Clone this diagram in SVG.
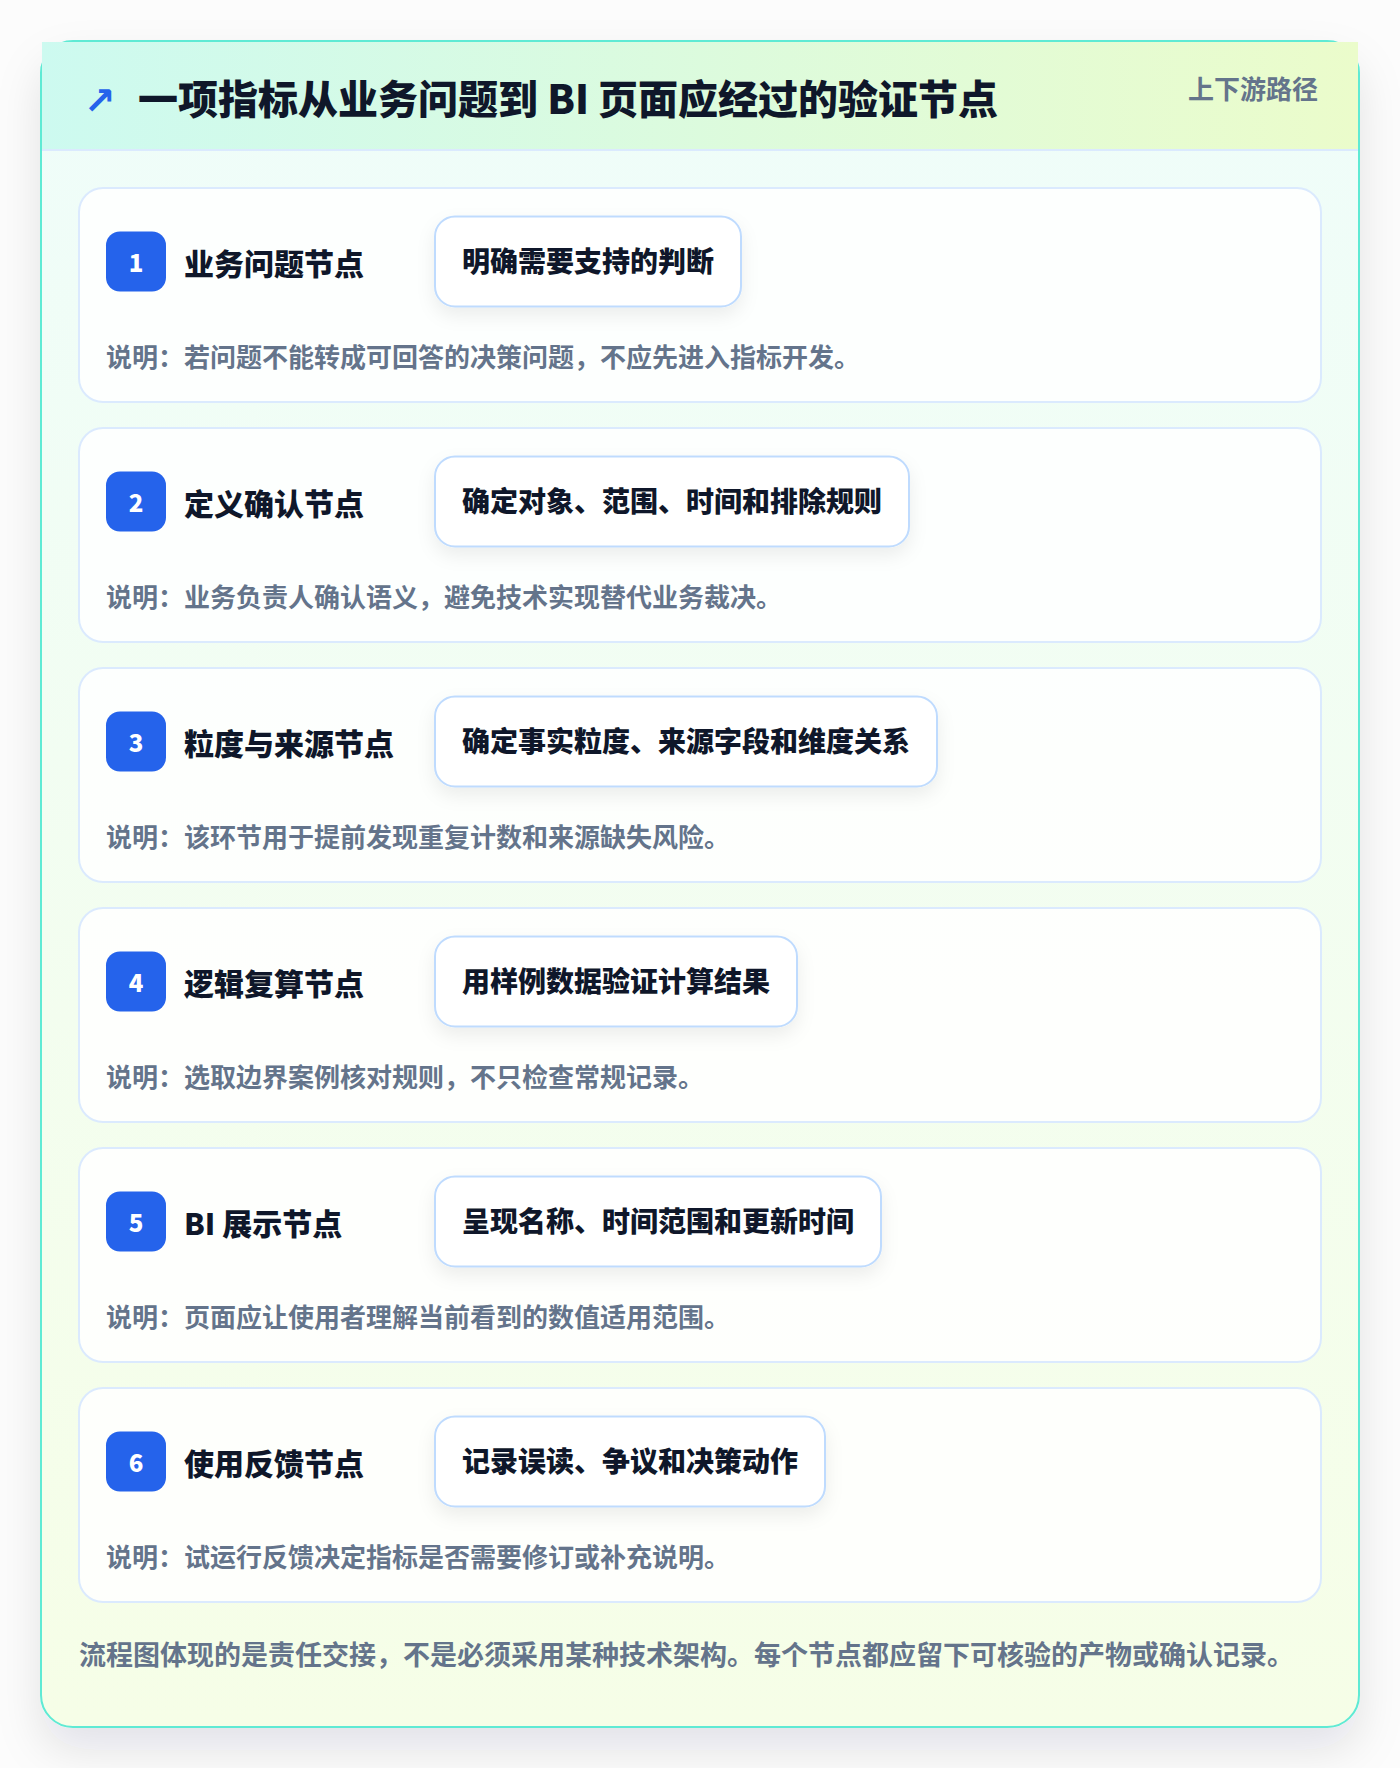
<svg xmlns="http://www.w3.org/2000/svg" width="1400" height="1768" viewBox="0 0 1400 1768">
<style>
text{font-family:"Noto Sans CJK SC","Noto Sans",sans-serif}
.title{font-size:40px;font-weight:900;fill:#0f172a}
.tag{font-size:26px;font-weight:700;fill:#64748b}
.card{fill:#ffffff;fill-opacity:0.86;stroke:#dbeafe;stroke-width:2}
.badge{fill:#2563eb}
.num{font-size:24px;font-weight:900;fill:#ffffff;text-anchor:middle}
.name{font-size:30px;font-weight:900;fill:#0f172a}
.pill{fill:#ffffff;stroke:#bfdbfe;stroke-width:2}
.pt{font-size:28px;font-weight:900;fill:#0f172a}
.desc{font-size:26px;font-weight:700;fill:#64748b}
.foot{font-size:27px;font-weight:700;fill:#64748b}
</style>
<defs>
<linearGradient id="hdr" x1="0" y1="0" x2="1" y2="0">
<stop offset="0" stop-color="#cdfaf0"/>
<stop offset="1" stop-color="#ebfccb"/>
</linearGradient>
<linearGradient id="body" x1="0" y1="0" x2="0" y2="1">
<stop offset="0" stop-color="#effdfa"/>
<stop offset="1" stop-color="#f6fee7"/>
</linearGradient>
<filter id="outerShadow" x="-10%" y="-10%" width="120%" height="120%">
<feDropShadow dx="0" dy="22" stdDeviation="22" flood-color="#0f172a" flood-opacity="0.10"/>
</filter>
<filter id="pillShadow" x="-20%" y="-40%" width="140%" height="200%">
<feDropShadow dx="0" dy="8" stdDeviation="9" flood-color="#0f172a" flood-opacity="0.07"/>
</filter>
</defs>
<rect x="0" y="0" width="1400" height="1768" fill="#fcfcfc"/>
<g id="frame">
<rect x="41" y="41" width="1318" height="1686" rx="32" fill="url(#body)" stroke="#5eead4" stroke-width="2" filter="url(#outerShadow)"/>
<rect x="42" y="42" width="1316" height="108" fill="url(#hdr)"/>
<line x1="42" y1="150" x2="1358" y2="150" stroke="#dbeafe" stroke-width="2"/>
<text x="84" y="114" style="font-family:'DejaVu Sans',sans-serif;font-size:38px;font-weight:700;fill:#2563eb">↗</text>
<text class="title" x="138" y="114">一项指标从业务问题到 BI 页面应经过的验证节点</text>
<text class="tag" x="1318" y="99" text-anchor="end">上下游路径</text>
</g>
<g id="connectors"></g>
<g id="node1">
<rect class="card" x="79" y="188" width="1242" height="214" rx="24"/>
<rect class="badge" x="106" y="231.5" width="60" height="60" rx="14"/>
<text class="num" x="136" y="272">1</text>
<text class="name" x="184" y="275">业务问题节点</text>
<rect class="pill" x="435" y="216.5" width="306" height="90" rx="20" filter="url(#pillShadow)"/>
<text class="pt" x="462" y="272">明确需要支持的判断</text>
<text class="desc" x="106" y="367">说明：若问题不能转成可回答的决策问题，不应先进入指标开发。</text>
</g>
<g id="node2">
<rect class="card" x="79" y="428" width="1242" height="214" rx="24"/>
<rect class="badge" x="106" y="471.5" width="60" height="60" rx="14"/>
<text class="num" x="136" y="512">2</text>
<text class="name" x="184" y="515">定义确认节点</text>
<rect class="pill" x="435" y="456.5" width="474" height="90" rx="20" filter="url(#pillShadow)"/>
<text class="pt" x="462" y="512">确定对象、范围、时间和排除规则</text>
<text class="desc" x="106" y="607">说明：业务负责人确认语义，避免技术实现替代业务裁决。</text>
</g>
<g id="node3">
<rect class="card" x="79" y="668" width="1242" height="214" rx="24"/>
<rect class="badge" x="106" y="711.5" width="60" height="60" rx="14"/>
<text class="num" x="136" y="752">3</text>
<text class="name" x="184" y="755">粒度与来源节点</text>
<rect class="pill" x="435" y="696.5" width="502" height="90" rx="20" filter="url(#pillShadow)"/>
<text class="pt" x="462" y="752">确定事实粒度、来源字段和维度关系</text>
<text class="desc" x="106" y="847">说明：该环节用于提前发现重复计数和来源缺失风险。</text>
</g>
<g id="node4">
<rect class="card" x="79" y="908" width="1242" height="214" rx="24"/>
<rect class="badge" x="106" y="951.5" width="60" height="60" rx="14"/>
<text class="num" x="136" y="992">4</text>
<text class="name" x="184" y="995">逻辑复算节点</text>
<rect class="pill" x="435" y="936.5" width="362" height="90" rx="20" filter="url(#pillShadow)"/>
<text class="pt" x="462" y="992">用样例数据验证计算结果</text>
<text class="desc" x="106" y="1087">说明：选取边界案例核对规则，不只检查常规记录。</text>
</g>
<g id="node5">
<rect class="card" x="79" y="1148" width="1242" height="214" rx="24"/>
<rect class="badge" x="106" y="1191.5" width="60" height="60" rx="14"/>
<text class="num" x="136" y="1232">5</text>
<text class="name" x="184" y="1235">BI 展示节点</text>
<rect class="pill" x="435" y="1176.5" width="446" height="90" rx="20" filter="url(#pillShadow)"/>
<text class="pt" x="462" y="1232">呈现名称、时间范围和更新时间</text>
<text class="desc" x="106" y="1327">说明：页面应让使用者理解当前看到的数值适用范围。</text>
</g>
<g id="node6">
<rect class="card" x="79" y="1388" width="1242" height="214" rx="24"/>
<rect class="badge" x="106" y="1431.5" width="60" height="60" rx="14"/>
<text class="num" x="136" y="1472">6</text>
<text class="name" x="184" y="1475">使用反馈节点</text>
<rect class="pill" x="435" y="1416.5" width="390" height="90" rx="20" filter="url(#pillShadow)"/>
<text class="pt" x="462" y="1472">记录误读、争议和决策动作</text>
<text class="desc" x="106" y="1567">说明：试运行反馈决定指标是否需要修订或补充说明。</text>
</g>
<g id="footer">
<text class="foot" x="79" y="1665">流程图体现的是责任交接，不是必须采用某种技术架构。每个节点都应留下可核验的产物或确认记录。</text>
</g>
</svg>
